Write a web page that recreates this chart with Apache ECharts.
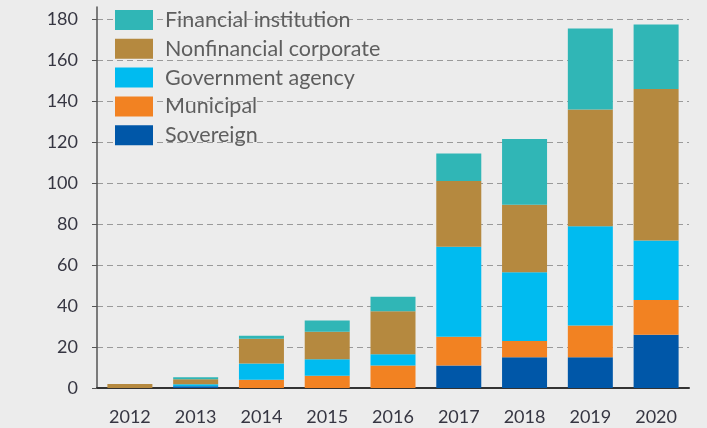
<!DOCTYPE html>
<html><head><meta charset="utf-8">
<script src="https://cdn.jsdelivr.net/npm/echarts@6/dist/echarts.min.js"></script>
<style>html,body{margin:0;padding:0;background:#ececec}#c{width:707px;height:428px}</style>
</head><body><div id="c"></div>
<script>
const years = ['2012','2013','2014','2015','2016','2017','2018','2019','2020'];
const sovereign = [0, 0.8, 0, 0, 0, 11, 15, 15, 26];
const municipal = [0, 0, 4, 6, 11, 14, 8, 15.5, 17];
const governmentAgency = [0, 1, 8, 8, 5.5, 44, 33.5, 48.5, 29];
const nonfinancialCorporate = [2, 2.5, 12, 13.5, 21, 32, 33, 57, 74];
const financialInstitution = [0, 1, 1.5, 5.5, 7, 13.5, 32, 39.5, 31.5];
const seriesNames = ['Sovereign','Municipal','Government agency','Nonfinancial corporate','Financial institution'];
const seriesData = [sovereign, municipal, governmentAgency, nonfinancialCorporate, financialInstitution];
const colors = ['#0057a8','#f28222','#00bbf0','#b5893f','#30b6b6'];

const chart = echarts.init(document.getElementById('c'));
chart.setOption({
  backgroundColor: '#ececec',
  animation: false,
  grid: {left: 97, right: 18, top: 7, bottom: 40},
  legend: {
    orient: 'vertical', left: 115, top: 9, padding: 0,
    itemWidth: 38, itemHeight: 20, itemGap: 6.8,
    data: seriesNames.slice().reverse(),
    textStyle: {fontFamily: 'Lato', fontSize: 21.5, lineHeight: 20, color: '#5e5e5e', padding: [0,0,0,7]},
    icon: 'rect'
  },
  xAxis: {
    type: 'category', data: years,
    axisLine: {lineStyle: {color: '#333', width: 2}},
    axisTick: {show: false},
    axisLabel: {fontFamily: 'Lato', fontSize: 18, color: '#363642', margin: 20}
  },
  yAxis: {
    type: 'value', min: 0, max: 186, interval: 20,
    axisLine: {show: true, lineStyle: {color: '#555', width: 1.5}},
    axisTick: {show: true, length: 5, lineStyle: {color: '#555'}},
    axisLabel: {fontFamily: 'Lato', fontSize: 18, color: '#363642', margin: 19, showMaxLabel: false},
    splitLine: {show: true, showMaxLine: false, lineStyle: {color: '#9a9a9a', type: [6, 4], width: 1}}
  },
  series: seriesNames.map((n, i) => ({
    name: n, type: 'bar', stack: 'total', barWidth: 45,
    data: seriesData[i],
    itemStyle: {color: colors[i]}
  }))
});
</script></body></html>
